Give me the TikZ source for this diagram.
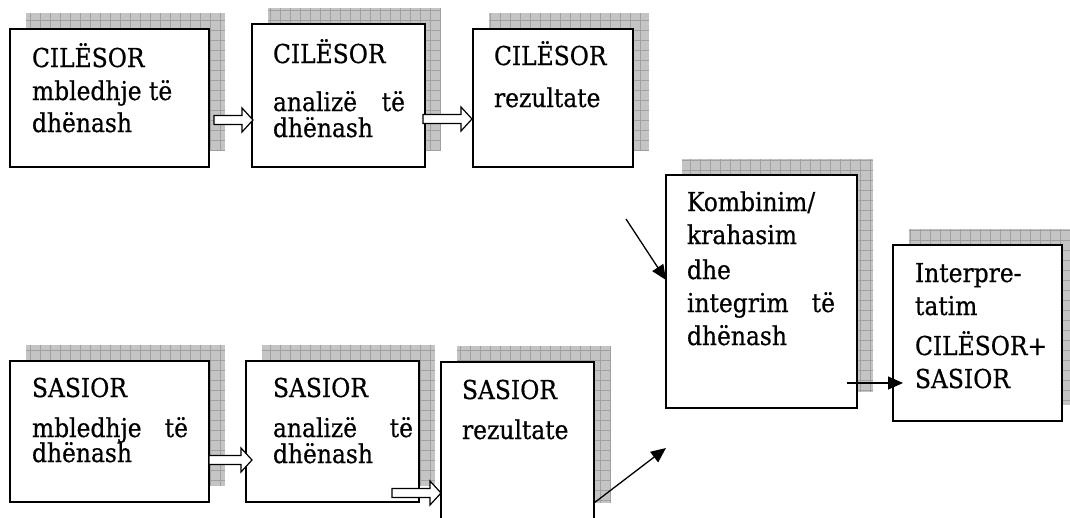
\documentclass[tikz,border=0pt]{standalone}
\usepackage{fontspec}
\setmainfont{DejaVu Serif Condensed}[FakeBold=0.6,AutoFakeBold=0.6]
\usetikzlibrary{calc,arrows.meta}
\definecolor{shfillc}{RGB}{196,196,196}
\definecolor{shgridc}{RGB}{160,160,160}
\tikzset{
  shfill/.style={fill=shfillc},
  shgrid/.style={draw=shgridc, line width=0.5pt, step=10pt},
  boxst/.style={draw=black, fill=white, line width=1.6pt, inner sep=0pt, outer sep=0pt},
  txt/.style={anchor=base west, inner sep=0pt, outer sep=0pt, font=\fontsize{26}{30}\selectfont\bfseries},
  blockarrow/.style={draw=black, fill=white, line width=1.2pt, line join=miter,
    to path={let \p1=(\tikztostart), \p2=(\tikztotarget) in
      (\x1,\y1+4.5pt) -- (\x2-11pt,\y1+4.5pt) -- (\x2-11pt,\y1+12pt) -- (\x2,\y1)
      -- (\x2-11pt,\y1-12pt) -- (\x2-11pt,\y1-4.5pt) -- (\x1,\y1-4.5pt) -- cycle}},
  linearrow/.style={draw=black, line width=1.3pt, -{Triangle[length=15pt,width=13pt]}}
}
\newcommand{\shbox}[5]{%
  \fill[shfill] ({#2+16},{#3-16}) rectangle ({#4+16},{#5-16});
  \draw[shgrid] ({#2+16},{#3-16}) grid ({#4+16},{#5-16});
}
\newcommand{\mainbox}[5]{%
  \node[boxst, minimum width={#4-#2}, minimum height={#5-#3}, anchor=north west] (#1) at (#2,#3) {};
}
\newcommand{\txtline}[4]{\node[txt] (#1) at (#2,#3) {#4};}
\begin{document}
\begin{tikzpicture}[x=1pt,y=-1pt]
\useasboundingbox (0,0) rectangle (1070,517);
\clip (0,0) rectangle (1070,517);
% shadows
\shbox{b1}{10}{29}{209}{167}
\shbox{b2}{252}{24}{425}{167}
\shbox{b3}{473}{29}{633}{167}
\shbox{b4}{666}{175}{857}{408}
\shbox{b5}{893}{245}{1062}{421}
\shbox{b6}{10}{361}{209}{502}
\shbox{b7}{246}{361}{419}{502}
\shbox{b8}{441}{362}{594}{519}
% boxes
\mainbox{b1}{10}{29}{209}{167}
\mainbox{b2}{252}{24}{425}{167}
\mainbox{b3}{473}{29}{633}{167}
\mainbox{b4}{666}{175}{857}{408}
\mainbox{b5}{893}{245}{1062}{421}
\mainbox{b6}{10}{361}{209}{502}
\mainbox{b7}{246}{361}{419}{502}
\mainbox{b8}{441}{362}{594}{519}
% texts
\txtline{t1a}{32}{67}{CILËSOR}
\txtline{t1b}{32}{100}{mbledhje të}
\txtline{t1c}{32}{132}{dhënash}
\txtline{t2a}{273}{63}{CILËSOR}
\txtline{t2b}{273}{111}{\makebox[132pt][l]{analizë\hfill të}}
\txtline{t2c}{273}{137}{dhënash}
\txtline{t3a}{494}{65}{CILËSOR}
\txtline{t3b}{494}{107}{rezultate}
\txtline{t4a}{687}{211}{Kombinim/}
\txtline{t4b}{687}{244}{krahasim}
\txtline{t4c}{687}{279}{dhe}
\txtline{t4d}{687}{312}{\makebox[148pt][l]{integrim\hfill të}}
\txtline{t4e}{687}{345}{dhënash}
\txtline{t5a}{915}{282}{Interpre-}
\txtline{t5b}{915}{315}{tatim}
\txtline{t5c}{915}{355}{CILËSOR+}
\txtline{t5d}{915}{388}{SASIOR}
\txtline{t6a}{32}{397}{SASIOR}
\txtline{t6b}{32}{437}{\makebox[156pt][l]{mbledhje\hfill të}}
\txtline{t6c}{32}{462}{dhënash}
\txtline{t7a}{273}{397}{SASIOR}
\txtline{t7b}{273}{437}{\makebox[140pt][l]{analizë\hfill të}}
\txtline{t7c}{273}{463}{dhënash}
\txtline{t8a}{462}{399}{SASIOR}
\txtline{t8b}{462}{439}{rezultate}
% block arrows
\draw[blockarrow] ([shift={(5pt,-22pt)}]b1.east) to ([xshift=1pt]b2.west);
\draw[blockarrow] ([shift={(-2pt,-23.5pt)}]b2.east) to ([xshift=-1pt]b3.west);
\draw[blockarrow] ([shift={(0pt,-28.5pt)}]b6.east) to ([xshift=6pt]b7.west);
\draw[blockarrow] ([shift={(-27pt,-61.5pt)}]b7.east) to (b8.west);
% line arrows
\coordinate (k0) at (626,219);
\coordinate (k1) at (666,448);
\draw[linearrow] (k0) -- ([yshift=11.5pt]b4.west);
\draw[linearrow] ([yshift=16pt]b8.south east) -- (k1);
\draw[linearrow] ([shift={(-10pt,25pt)}]b4.south east) -- ([shift={(10pt,-50pt)}]b5.west);
\end{tikzpicture}
\end{document}
